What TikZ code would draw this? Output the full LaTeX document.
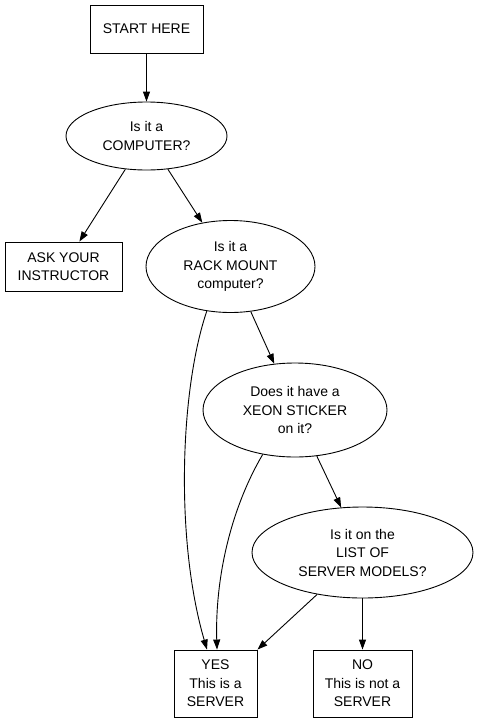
\documentclass[tikz,border=0pt]{standalone}
\usepackage{fontspec}
\setmainfont{Liberation Sans}
\usetikzlibrary{shapes.geometric,arrows.meta}
\begin{document}
\begin{tikzpicture}[x=1pt,y=-1pt,
  every node/.style={align=center,font=\fontsize{14}{18.5}\selectfont,inner sep=0pt},
  box/.style={draw,line width=0.9pt,rectangle},
  oval/.style={draw,line width=0.9pt,ellipse},
  edge/.style={line width=0.9pt,-{Triangle[length=10pt,width=7pt]}}]
\useasboundingbox[fill=white] (0,0) rectangle (477,723);
\node[box,minimum width=113pt,minimum height=48pt] (start) at (146.5,29) {START HERE};
\node[oval,minimum width=161pt,minimum height=68pt] (comp) at (146.5,136) {Is it a\\COMPUTER?};
\node[box,minimum width=117pt,minimum height=49pt] (ask) at (63.5,266.5) {ASK YOUR\\INSTRUCTOR};
\node[oval,minimum width=169pt,minimum height=92pt] (rack) at (230.5,266.5) {Is it a\\RACK MOUNT\\computer?};
\node[oval,minimum width=184pt,minimum height=94pt] (xeon) at (295,410) {Does it have a\\XEON STICKER\\on it?};
\node[oval,minimum width=221pt,minimum height=91pt] (list) at (362.5,552.5) {Is it on the\\LIST OF\\SERVER MODELS?};
\node[box,minimum width=83pt,minimum height=67pt] (yes) at (215.5,683.5) {YES\\This is a\\SERVER};
\node[box,minimum width=99pt,minimum height=67pt] (no) at (362.5,683.5) {NO\\This is not a\\SERVER};
\draw[edge] (start) -- (comp);
\draw[edge] (comp) -- (ask);
\draw[edge] (comp) -- (rack);
\draw[edge] (rack) -- (xeon);
\draw[edge] (xeon) -- (list);
\draw[edge] (list) -- (no);
\draw[edge] (list) -- (yes.north east);
\draw[edge] (rack.242) .. controls (180,390) and (175,540) .. ([xshift=-8.5pt]yes.north);
\draw[edge] (xeon.234) .. controls (230,510) and (215,580) .. ([xshift=1.5pt]yes.north);
\end{tikzpicture}
\end{document}
